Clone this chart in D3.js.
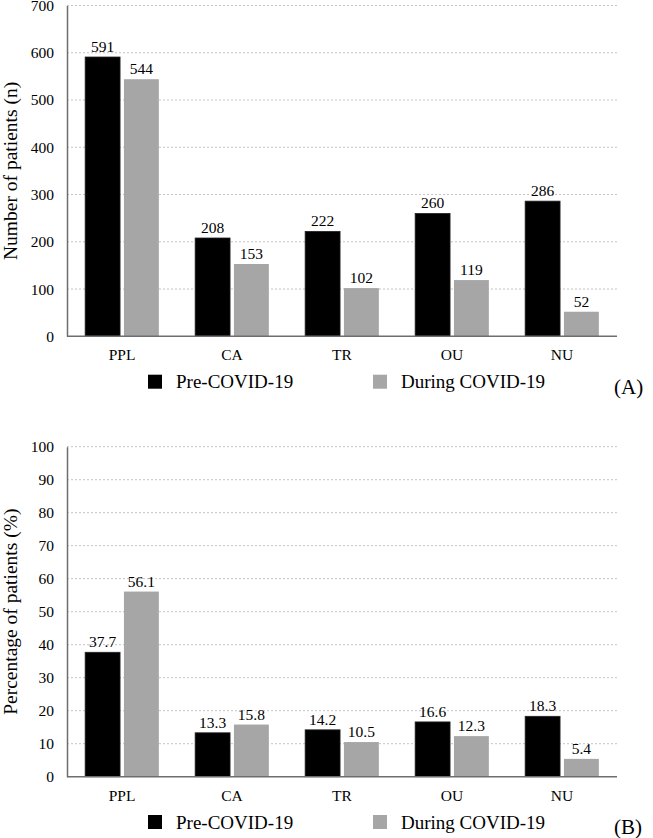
<!DOCTYPE html>
<html><head><meta charset="utf-8">
<script src="https://cdn.jsdelivr.net/npm/d3@7"></script>
<style>body{margin:0;background:#fff}svg{display:block}text{font-family:"Liberation Serif","Times New Roman",serif;fill:#000}</style>
</head><body>
<svg id="c" width="653" height="838"></svg>
<script>
const categories = ["PPL","CA","TR","OU","NU"];
const seriesNames = ["Pre-COVID-19","During COVID-19"];
const countsPre = [591,208,222,260,286];
const countsDuring = [544,153,102,119,52];
const pctPre = [37.7,13.3,14.2,16.6,18.3];
const pctDuring = [56.1,15.8,10.5,12.3,5.4];
const countTicks = [0,100,200,300,400,500,600,700];
const pctTicks = [0,10,20,30,40,50,60,70,80,90,100];
const colors = ["#000000","#a6a6a6"];

const svg = d3.select("#c");
const left = 67, right = 617;

function panel(cfg){
  const g = svg.append("g");
  const x = d3.scaleBand().domain(categories).range([left,right]).paddingInner(0.33).paddingOuter(0.165);
  const xi = d3.scaleBand().domain(seriesNames).range([0,x.bandwidth()]).paddingInner(0.1);
  const y = d3.scaleLinear().domain(cfg.domain).range([cfg.y0,cfg.y1]);
  g.selectAll(".grid").data(cfg.ticks.filter(t=>t>0)).join("line")
    .attr("x1",left).attr("x2",right).attr("y1",d=>y(d)).attr("y2",d=>y(d))
    .attr("stroke","#c4c4c4").attr("stroke-width",1).attr("stroke-dasharray","2,2");
  const ya = d3.axisLeft(y).tickValues(cfg.ticks).tickSize(0).tickPadding(13).tickFormat(d3.format("d"));
  const yg = g.append("g").attr("transform",`translate(${left},0)`).call(ya);
  yg.select(".domain").attr("stroke","#6e6e6e").attr("stroke-width",1.5);
  yg.selectAll("text").style("font-size","15.5px").style("font-family","'Liberation Serif',serif").attr("fill","#000");
  const data = categories.map((c,i)=>({c, vals:[{s:seriesNames[0],v:cfg.pre[i]},{s:seriesNames[1],v:cfg.during[i]}]}));
  const cg = g.selectAll(".cat").data(data).join("g").attr("transform",d=>`translate(${x(d.c)},0)`);
  cg.selectAll("rect").data(d=>d.vals).join("rect")
    .attr("x",d=>xi(d.s)).attr("width",xi.bandwidth())
    .attr("y",d=>y(d.v)).attr("height",d=>y(0)-y(d.v))
    .attr("fill",(d,i)=>colors[i]).attr("stroke",(d,i)=>i===0?"#222":"none").attr("stroke-width",0.8);
  cg.selectAll("text.val").data(d=>d.vals).join("text").attr("class","val")
    .attr("x",d=>xi(d.s)+xi.bandwidth()/2).attr("y",d=>y(d.v)-5)
    .attr("text-anchor","middle").style("font-size","15.5px").text(d=>cfg.fmt(d.v));
  g.append("line").attr("x1",left).attr("x2",right).attr("y1",y(0)).attr("y2",y(0))
    .attr("stroke","#6e6e6e").attr("stroke-width",1.5);
  const xa = d3.axisBottom(x).tickSize(0).tickPadding(0);
  const xg = g.append("g").attr("transform",`translate(0,${y(0)})`).call(xa);
  xg.select(".domain").remove();
  xg.selectAll("text").attr("dy",null).attr("y",cfg.catDy).style("font-size","15.5px").style("font-family","'Liberation Serif',serif").attr("fill","#000");
  g.append("text").attr("transform",`translate(17,${(cfg.y0+cfg.y1)/2}) rotate(-90)`)
    .attr("text-anchor","middle").style("font-size","19.5px").text(cfg.title);
  const lg = g.append("g");
  const lx = [148,373];
  seriesNames.forEach((s,i)=>{
    lg.append("rect").attr("x",lx[i]).attr("y",cfg.legY-7).attr("width",14).attr("height",14).attr("fill",colors[i]);
    lg.append("text").attr("x",lx[i]+28).attr("y",cfg.legY+6.5).style("font-size","19px").text(s);
  });
  g.append("text").attr("x",614).attr("y",cfg.legY+12).style("font-size","21px").text(cfg.tag);
}

panel({domain:[0,700], y0:336.3, y1:5.5, ticks:countTicks, pre:countsPre, during:countsDuring,
  fmt:d3.format("d"), title:"Number of patients (n)", catDy:24, legY:381.7, tag:"(A)"});
panel({domain:[0,100], y0:776.7, y1:446.7, ticks:pctTicks, pre:pctPre, during:pctDuring,
  fmt:d3.format(".1f"), title:"Percentage of patients (%)", catDy:24, legY:822, tag:"(B)"});
</script>
</body></html>
